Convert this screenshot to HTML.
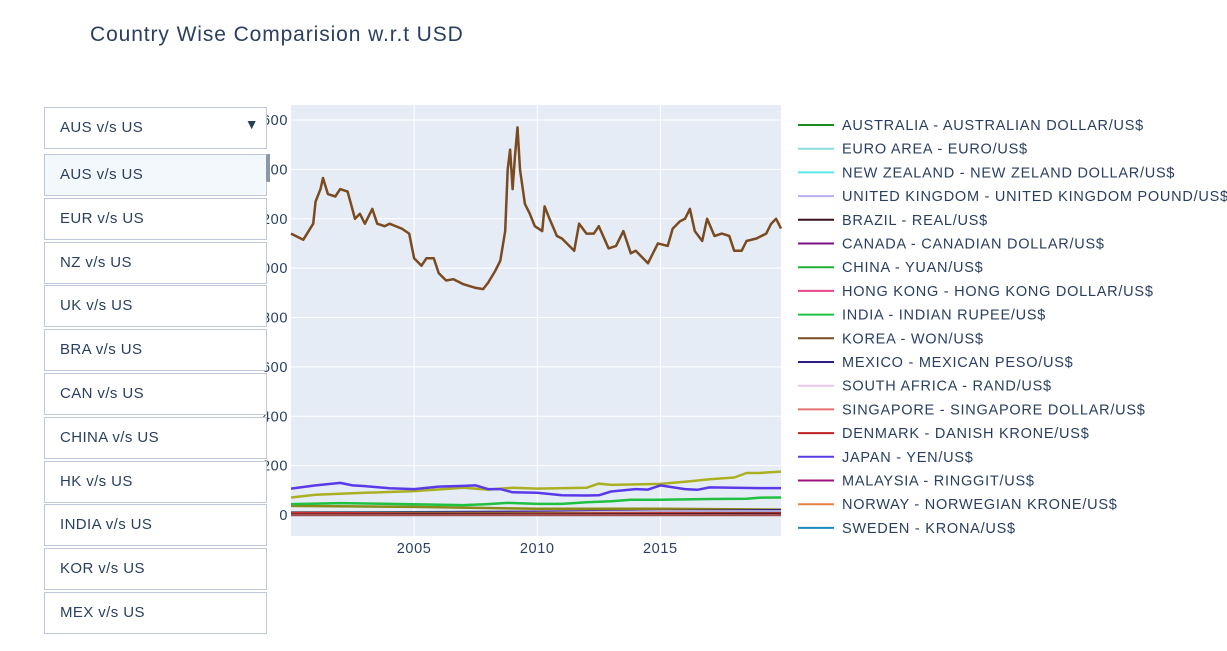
<!DOCTYPE html>
<html><head><meta charset="utf-8"><style>
body{margin:0;width:1227px;height:651px;background:#fff;font-family:"Liberation Sans",sans-serif;overflow:hidden;position:relative;color:#2a3f5f}
#title{position:absolute;left:90px;top:23px;font-size:21px;letter-spacing:0.9px}
#dd{position:absolute;left:44px;top:107px;width:221px;height:40px;border:1px solid #bec8d9;background:#fff;font-size:15px;letter-spacing:0.4px}
#dd span{position:absolute;left:15px;top:11px}
#dd b{position:absolute;right:7px;top:8px;font-size:14px}
#menu{position:absolute;left:44px;top:152px;width:226px;height:484px;overflow:hidden}
.it{position:absolute;left:0;width:221px;height:40px;border:1px solid #bec8d9;background:#fff;font-size:15px;letter-spacing:0.4px}
.it span{position:absolute;left:15px;top:11px}
#sb{position:absolute;left:222px;top:2px;width:5px;height:28px;background:#8b97ab;border-radius:2px}
</style></head><body>
<div id="title">Country Wise Comparision w.r.t USD</div>
<svg id="chart" width="1227" height="651" style="position:absolute;left:0;top:0"></svg>
<div id="dd"><span>AUS v/s US</span><b>▼</b></div>
<div id="menu"></div>
<script>
const korYears=[2000.0,2000.5,2000.9,2001.0,2001.2,2001.3,2001.5,2001.8,2002.0,2002.3,2002.6,2002.8,2003.0,2003.3,2003.5,2003.8,2004.0,2004.5,2004.8,2005.0,2005.3,2005.5,2005.8,2006.0,2006.3,2006.6,2007.0,2007.5,2007.8,2008.0,2008.3,2008.5,2008.7,2008.8,2008.9,2009.0,2009.1,2009.2,2009.3,2009.5,2009.7,2009.9,2010.2,2010.3,2010.5,2010.8,2011.0,2011.5,2011.7,2012.0,2012.3,2012.5,2012.9,2013.2,2013.5,2013.8,2014.0,2014.5,2014.9,2015.3,2015.5,2015.8,2016.0,2016.2,2016.4,2016.7,2016.9,2017.2,2017.5,2017.8,2018.0,2018.3,2018.5,2018.9,2019.3,2019.5,2019.7,2019.9];
const korVals=[1140,1115,1180,1270,1320,1365,1300,1290,1320,1310,1200,1220,1180,1240,1180,1170,1180,1160,1140,1040,1010,1040,1040,980,950,955,935,920,915,940,990,1030,1150,1400,1480,1320,1460,1570,1400,1260,1220,1170,1150,1250,1200,1130,1120,1070,1180,1140,1140,1170,1080,1090,1150,1060,1070,1020,1100,1090,1160,1190,1200,1240,1150,1110,1200,1130,1140,1130,1070,1070,1110,1120,1140,1180,1200,1160];
const jpyYears=[2000,2001,2002,2002.5,2003,2004,2005,2006,2007,2007.5,2008,2008.5,2009,2010,2011,2012,2012.5,2013,2014,2014.5,2015,2016,2016.5,2017,2018,2019,2019.9];
const jpyVals=[107,120,130,120,117,108,105,115,118,120,105,105,92,90,80,79,80,95,105,103,120,105,102,112,110,109,109];
const oliveYears=[2000,2001,2003,2005,2007,2008,2009,2010,2012,2012.5,2013,2014,2015,2016,2017,2018,2018.5,2019,2019.9];
const oliveVals=[71,82,90,97,110,103,110,107,110,127,122,124,126,135,145,152,170,170,176];
const inrYears=[2000,2002,2004,2007,2008,2008.8,2010,2011,2012,2013,2013.8,2015,2017,2018.5,2019,2019.9];
const inrVals=[44,48,45,40,44,49,45,45,52,56,62,62,65,66,70,71];
const smallYears=[2000,2005,2010,2015,2019.9];
const smallSeries=[
 {c:"#8a8a1a",v:[37,33,25,25,22]},
 {c:"#2e1a8a",v:[10,11,13,16,19]},
 {c:"#e8c8e8",v:[7,7,8,14,14]},
 {c:"#2ca02c",v:[1.8,1.3,1.1,1.3,1.4]},
 {c:"#8adcdc",v:[1.1,0.8,0.75,0.9,0.9]},
 {c:"#1aa0d0",v:[8.5,8.0,7.0,8.5,9.5]},
 {c:"#e8458a",v:[7.8,7.8,7.8,7.8,7.8]},
 {c:"#20c030",v:[8.3,8.3,6.8,6.2,6.9]},
 {c:"#d03030",v:[8,6,5.5,6.5,6.7]},
 {c:"#3a1020",v:[1.8,2.4,1.8,3.3,4.0]},
 {c:"#a05050",v:[0,0,0,0,0]}
];
const yTicks=[0,200,400,600,800,1000,1200,1400,1600];
const xTicks=[2005,2010,2015];
const legendNames=["AUSTRALIA - AUSTRALIAN DOLLAR/US$","EURO AREA - EURO/US$","NEW ZEALAND - NEW ZELAND DOLLAR/US$","UNITED KINGDOM - UNITED KINGDOM POUND/US$","BRAZIL - REAL/US$","CANADA - CANADIAN DOLLAR/US$","CHINA - YUAN/US$","HONG KONG - HONG KONG DOLLAR/US$","INDIA - INDIAN RUPEE/US$","KOREA - WON/US$","MEXICO - MEXICAN PESO/US$","SOUTH AFRICA - RAND/US$","SINGAPORE - SINGAPORE DOLLAR/US$","DENMARK - DANISH KRONE/US$","JAPAN - YEN/US$","MALAYSIA - RINGGIT/US$","NORWAY - NORWEGIAN KRONE/US$","SWEDEN - KRONA/US$"];
const legendColors=["#1a8a1a","#8adcdc","#5ae8e8","#b8b0f0","#3a1020","#7a1080","#20b030","#e8458a","#20c040","#7a4a20","#2e1a8a","#e8c8e8","#e87070","#c02020","#5a3ae8","#a01080","#e88040","#1a8ac0"];
const menuItems=["AUS v/s US","EUR v/s US","NZ  v/s US","UK  v/s US","BRA v/s US","CAN v/s US","CHINA v/s US","HK v/s US","INDIA v/s US","KOR v/s US","MEX v/s US","SA v/s US"];

const L=291,R=781,T=105,B=536;
const X=y=>L+(y-2000)*(R-L)/19.9;
const Y=v=>515-v*(515-120)/1600;
const NS="http://www.w3.org/2000/svg";
const svg=document.getElementById('chart');
function mk(t,a){const e=document.createElementNS(NS,t);for(const k in a)e.setAttribute(k,a[k]);svg.appendChild(e);return e;}
const bg=mk('rect',{x:L,y:T,width:R-L,height:B-T,fill:'#e5ecf6'});


yTicks.forEach(t=>{
 const g=mk('line',{x1:L,x2:R,y1:Y(t),y2:Y(t),stroke:'#fff','stroke-width':t==0?2:1});
 
 
 const tx=mk('text',{x:L-3,y:Y(t)+5,'text-anchor':'end','font-size':14.5,'letter-spacing':0.6,fill:'#2a3f5f'});
 tx.textContent=String(t);
 
 
});
xTicks.forEach(t=>{
 const g=mk('line',{x1:X(t),x2:X(t),y1:T,y2:B,stroke:'#fff'});
 
 
 const tx=mk('text',{x:X(t),y:B+17,'text-anchor':'middle','font-size':14.5,'letter-spacing':0.6,fill:'#2a3f5f'});
 tx.textContent=t;
 
 
});
function line(xs,vs,c,name,w){
 const p=mk('path',{d:xs.map((x,i)=>(i?'L':'M')+X(x).toFixed(1)+','+Y(vs[i]).toFixed(1)).join(''),fill:'none',stroke:c,'stroke-width':w||2.5,'stroke-linejoin':'round'});
 
 
}
smallSeries.forEach(s=>line(smallYears,s.v,s.c,'small-currency-line'));
line(inrYears,inrVals,'#20c040','india-line');
line(oliveYears,oliveVals,'#aab020','olive-line');
line(jpyYears,jpyVals,'#5a3ae8','japan-line');
line(korYears,korVals,'#7a4a20','korea-line');
legendNames.forEach((n,i)=>{
 const y=125+i*23.7;
 const l=mk('line',{x1:798,x2:834,y1:y,y2:y,stroke:legendColors[i],'stroke-width':2});
 
 
 const t=mk('text',{x:842,y:y+5,'font-size':14.5,'letter-spacing':0.75,fill:'#2a3f5f'});
 t.textContent=n;
 
 
});
const menu=document.getElementById('menu');
menuItems.forEach((m,i)=>{
 const d=document.createElement('div');
 d.className='it';d.style.top=(2+i*43.8)+'px';
 if(i==0)d.style.background='#f3f8fd';
 d.innerHTML='<span>'+m+'</span>';
 
 
 menu.appendChild(d);
});
const sb=document.createElement('div');sb.id='sb';


menu.appendChild(sb);
</script>
</body></html>
